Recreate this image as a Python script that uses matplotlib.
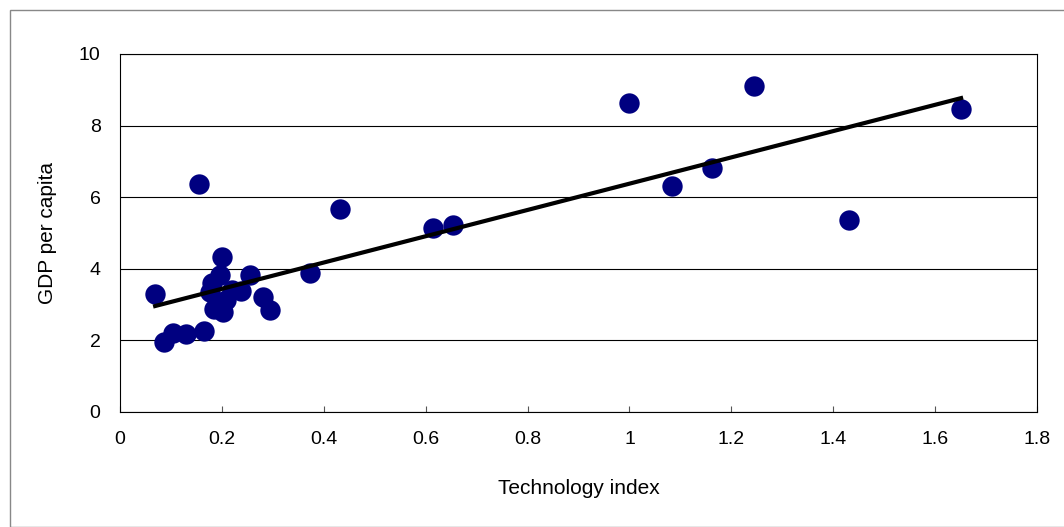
import matplotlib
matplotlib.use("Agg")
import matplotlib.pyplot as plt
import numpy as np
from matplotlib.patches import Rectangle

plt.rcParams['font.family'] = ['Liberation Sans', 'DejaVu Sans']

# technology index vs GDP per capita
tech = [0.069, 0.086, 0.104, 0.130, 0.165, 0.155, 0.200, 0.180, 0.177,
        0.196, 0.220, 0.238, 0.255, 0.185, 0.202, 0.208, 0.281, 0.294,
        0.373, 0.432, 0.614, 0.654, 1.000, 1.084, 1.162, 1.245, 1.431, 1.651]
gdp = [3.30, 1.96, 2.21, 2.18, 2.26, 6.37, 4.33, 3.60, 3.35,
       3.83, 3.40, 3.38, 3.83, 2.88, 2.80, 3.13, 3.21, 2.85,
       3.88, 5.67, 5.15, 5.22, 8.63, 6.31, 6.82, 9.11, 5.36, 8.46]

fig = plt.figure(figsize=(10.64, 5.27), dpi=100)
fig.patches.append(Rectangle((10 / 1064, 0), 1, 1 - 10 / 527, transform=fig.transFigure,
                             fill=False, edgecolor='#888888', linewidth=1))
ax = fig.add_axes([120 / 1064, 1 - 412 / 527, 917 / 1064, 358 / 527])

ax.scatter(tech, gdp, s=215, color='#000080', zorder=3, linewidths=0)

# linear trend
k, b = np.polyfit(tech, gdp, 1)
xs = np.array([min(tech), max(tech)])
ax.plot(xs, k * xs + b, color='black', linewidth=3, zorder=4)

ax.set_xlim(0, 1.8)
ax.set_ylim(0, 10)
ax.set_xticks(np.arange(0, 1.81, 0.2))
ax.set_xticklabels(['0', '0.2', '0.4', '0.6', '0.8', '1', '1.2', '1.4', '1.6', '1.8'])
ax.set_yticks(range(0, 11, 2))
ax.yaxis.grid(True, color='black', linewidth=0.8)
ax.set_axisbelow(True)
for side in ax.spines:
    ax.spines[side].set_color('black')
ax.tick_params(labelsize=14, direction='in', color='#555555')
ax.tick_params(axis='x', length=4.5, pad=14)
ax.tick_params(axis='y', length=0, pad=14)
ax.set_xlabel('Technology index', fontsize=15, labelpad=22)
ax.set_ylabel('GDP per capita', fontsize=15, labelpad=16)

fig.savefig('out.png', dpi=100)
